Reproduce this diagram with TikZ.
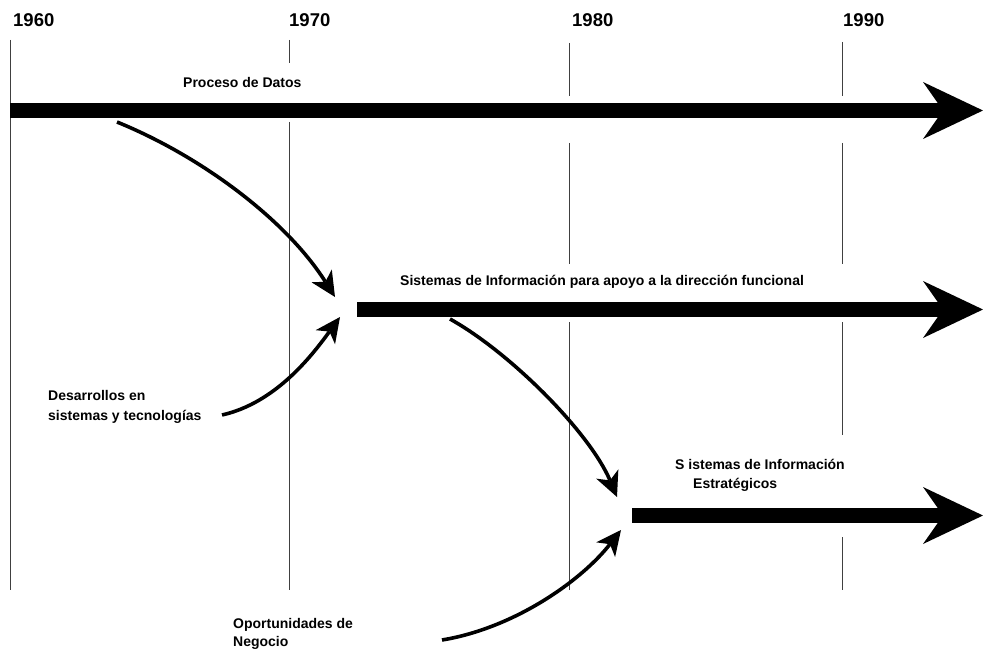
\documentclass[tikz,border=0pt]{standalone}
\usepackage{fontspec}
\setmainfont{Liberation Sans}
\usetikzlibrary{arrows.meta}
\begin{document}
\begin{tikzpicture}[x=1pt,y=-1pt,
  yearlbl/.style={anchor=base west,inner sep=0pt,font=\fontsize{18.5}{22}\selectfont\bfseries},
  lbl/.style={anchor=base west,inner sep=0pt,font=\fontsize{14}{17}\selectfont\bfseries},
  gridline/.style={black!75,line width=0.9pt},
  era/.style={line width=15pt,-{Stealth[length=60pt,width=57pt,inset=20pt,line width=0pt]}},
  flow/.style={line width=3.6pt,-{Stealth[length=25pt,width=24pt,inset=7pt,line width=0pt]}},
]
\useasboundingbox (0,0) rectangle (983,650);

% decade labels
\node[yearlbl] (y60) at (13,27) {1960};
\node[yearlbl] (y70) at (289,27) {1970};
\node[yearlbl] (y80) at (572,27) {1980};
\node[yearlbl] (y90) at (843,27) {1990};

% decade grid lines (interrupted around bars and labels)
\draw[gridline] (10,40) -- (10,590);
\draw[gridline] (289,40) -- (289,63);
\draw[gridline] (289,122) -- (289,590);
\draw[gridline] (569,43) -- (569,96);
\draw[gridline] (569,143) -- (569,264);
\draw[gridline] (569,322) -- (569,590);
\draw[gridline] (842,42) -- (842,96);
\draw[gridline] (842,143) -- (842,264);
\draw[gridline] (842,322) -- (842,435);
\draw[gridline] (842,537) -- (842,590);

% era bars
\coordinate (pd-s) at (10,110.5);
\coordinate (pd-e) at (983,110.5);
\coordinate (sif-s) at (357,309.5);
\coordinate (sif-e) at (983,309.5);
\coordinate (sie-s) at (632,515.5);
\coordinate (sie-e) at (983,515.5);
\draw[era] (pd-s) -- (pd-e);
\draw[era] (sif-s) -- (sif-e);
\draw[era] (sie-s) -- (sie-e);

% labels
\node[lbl] (pd) at (183,88) {Proceso de Datos};
\node[lbl] (sif) at (400,285) {Sistemas de Información para apoyo a la dirección funcional};
\node[lbl] (sie1) at (675,469) {S istemas de Información};
\node[lbl] (sie2) at (693,488) {Estratégicos};
\node[lbl] (dev1) at (48,400.5) {Desarrollos en};
\node[lbl] (dev2) at (48,420) {sistemas y tecnologías};
\node[lbl] (opp1) at (233,628) {Oportunidades de};
\node[lbl] (opp2) at (233,646.5) {Negocio};

% influence arrows
\coordinate (pd-out) at (117,122);
\coordinate (sif-in1) at (335,297);
\coordinate (dev-out) at (222,415);
\coordinate (sif-in2) at (340,317);
\coordinate (sif-out) at (450,319);
\coordinate (sie-in1) at (617,497);
\coordinate (opp-out) at (442,640);
\coordinate (sie-in2) at (621,530);
\draw[flow] (pd-out) .. controls (203,157) and (287,221) .. (sif-in1);
\draw[flow] (dev-out) .. controls (275,403) and (311,357) .. (sif-in2);
\draw[flow] (sif-out) .. controls (511,353) and (590,433) .. (sie-in1);
\draw[flow] (opp-out) .. controls (515,628) and (582,580) .. (sie-in2);
\end{tikzpicture}
\end{document}
